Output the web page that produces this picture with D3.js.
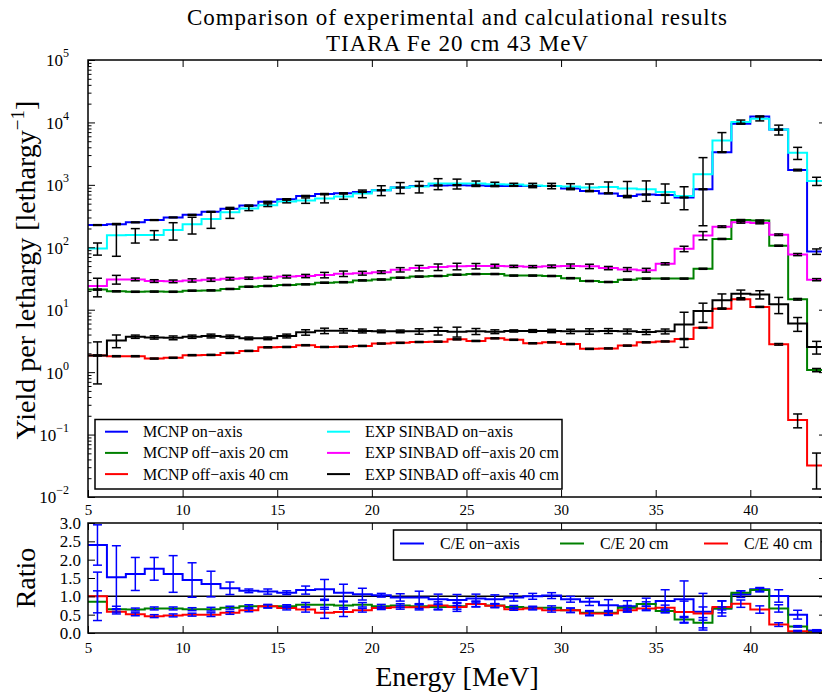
<!DOCTYPE html>
<html>
<head>
<meta charset="utf-8">
<script src="https://cdn.jsdelivr.net/npm/d3@7"></script>
<style>
  body { margin: 0; background: #fff; overflow: hidden; }
  svg text { font-family: "Liberation Serif", "DejaVu Serif", serif !important; fill: #000; }
</style>
</head>
<body>
<svg id="chart" width="822" height="695" font-family="Liberation Serif, serif"></svg>
<script>
// lower bin edges (MeV), bins are 1 MeV wide, last edge 44
const binLow = [5, 6, 7, 8, 9, 10, 11, 12, 13, 14, 15, 16, 17, 18, 19, 20, 21, 22, 23, 24,
  25, 26, 27, 28, 29, 30, 31, 32, 33, 34, 35, 36, 37, 38, 39, 40, 41, 42, 43];
const lastEdge = 44;

// yield per lethargy
const mcnpOn = [227, 234, 251, 273, 301, 331, 370, 413, 468, 535, 590, 666, 716, 735,
  771, 820, 906, 962, 980, 990, 980, 962, 962, 962, 962, 871, 800,
  730, 666, 700, 690, 628, 851, 3340, 9550, 12500, 7670, 1726, 85.5];
const mcnp20 = [21, 19.7, 19.4, 19.5, 19.4, 20.2, 20.4, 21.5, 23.4, 24, 24.9, 25.5, 27.1, 27.6,
  29.5, 30.5, 32.6, 33.9, 34.7, 36.4, 37.3, 37.3, 35.2, 35.2, 34.7, 32, 28.8,
  27.8, 30.3, 31.5, 31.5, 31.5, 45.3, 136, 273, 268, 106, 14.7, 1.08];
const mcnp40 = [1.85, 1.8, 1.8, 1.65, 1.7, 1.87, 1.89, 2.03, 2.19, 2.5, 2.53, 2.7, 2.53, 2.55,
  2.63, 2.87, 2.95, 3.04, 3.08, 3.35, 3.16, 3.48, 3.3, 2.9, 3.0, 2.82, 2.36,
  2.4, 2.66, 3.0, 3.1, 3.39, 5.14, 10.4, 14.7, 11.1, 2.79, 0.171, 0.032];
const expOn = [96, 156, 158, 158, 189, 233, 283, 363, 420, 473, 542, 562, 605, 652,
  724, 820, 906, 940, 1047, 1047, 1047, 1020, 1010, 980, 962, 940, 906,
  927, 878, 851, 771, 666, 1476, 5130, 10200, 11500, 7670, 3270, 1150];
const exp20 = [24, 30.6, 30.6, 28.8, 28.5, 29.5, 30.3, 31.4, 32, 32.5, 33.9, 34.7, 36, 37.8,
  38.5, 40, 43.7, 46.5, 48.2, 49.5, 50, 50, 49.5, 49, 49.5, 50, 49.5,
  46.5, 44.2, 43, 54.4, 94.5, 155, 214, 251, 245, 159, 76.5, 30.3];
const exp40 = [1.85, 3.2, 3.7, 3.6, 3.55, 3.7, 3.8, 3.7, 3.48, 3.48, 3.8, 4.34, 4.6, 4.6,
  4.57, 4.5, 4.5, 4.5, 4.57, 4.45, 4.5, 4.45, 4.57, 4.57, 4.57, 4.5, 4.5,
  4.57, 4.5, 4.4, 4.5, 5.8, 9.5, 14.2, 18.1, 17.5, 12.2, 6.0, 2.53];

// relative uncertainties
const mcnpOnErr = [0.015, 0.015, 0.015, 0.015, 0.015, 0.015, 0.015, 0.015, 0.015, 0.015, 0.015, 0.015, 0.015, 0.015,
  0.015, 0.015, 0.015, 0.015, 0.015, 0.015, 0.015, 0.015, 0.015, 0.015, 0.015, 0.015, 0.015,
  0.015, 0.015, 0.015, 0.015, 0.015, 0.015, 0.015, 0.015, 0.015, 0.02, 0.03, 0.1];
const mcnp20Err = [0.02, 0.02, 0.02, 0.02, 0.02, 0.02, 0.02, 0.02, 0.02, 0.02, 0.02, 0.02, 0.02, 0.02,
  0.02, 0.02, 0.02, 0.02, 0.02, 0.02, 0.02, 0.02, 0.02, 0.02, 0.02, 0.02, 0.02,
  0.02, 0.02, 0.02, 0.02, 0.02, 0.02, 0.02, 0.02, 0.02, 0.02, 0.03, 0.06];
const mcnp40Err = [0.02, 0.02, 0.02, 0.02, 0.02, 0.02, 0.02, 0.02, 0.02, 0.02, 0.02, 0.02, 0.02, 0.02,
  0.02, 0.02, 0.02, 0.02, 0.02, 0.02, 0.02, 0.02, 0.02, 0.02, 0.02, 0.02, 0.02,
  0.02, 0.02, 0.02, 0.02, 0.02, 0.02, 0.02, 0.02, 0.02, 0.03, 0.25, 0.58];
const expOnErr = [0.22, 0.54, 0.26, 0.17, 0.31, 0.30, 0.29, 0.20, 0.08, 0.05, 0.05, 0.10, 0.15, 0.10,
  0.14, 0.18, 0.20, 0.21, 0.20, 0.18, 0.10, 0.08, 0.05, 0.08, 0.10, 0.11, 0.14,
  0.20, 0.29, 0.36, 0.34, 0.40, 0.85, 0.34, 0.07, 0.08, 0.18, 0.22, 0.15];
const exp20Err = [0.33, 0.16, 0.05, 0.05, 0.05, 0.06, 0.06, 0.05, 0.04, 0.05, 0.05, 0.06, 0.1, 0.1,
  0.07, 0.05, 0.08, 0.1, 0.12, 0.12, 0.1, 0.07, 0.04, 0.04, 0.05, 0.08, 0.08,
  0.06, 0.07, 0.07, 0.04, 0.1, 0.15, 0.03, 0.03, 0.03, 0.03, 0.04, 0.04];
const exp40Err = [0.65, 0.23, 0.06, 0.06, 0.07, 0.06, 0.07, 0.06, 0.05, 0.05, 0.07, 0.1, 0.1, 0.08,
  0.07, 0.05, 0.05, 0.1, 0.14, 0.18, 0.11, 0.07, 0.04, 0.05, 0.06, 0.08, 0.1,
  0.09, 0.09, 0.09, 0.09, 0.57, 0.34, 0.26, 0.14, 0.15, 0.29, 0.25, 0.23];

// C/E ratios and absolute uncertainties
const ratioOn = [2.4, 1.52, 1.61, 1.75, 1.61, 1.445, 1.335, 1.22, 1.15, 1.13, 1.1, 1.17, 1.19, 1.1,
  1.06, 1.03, 0.97, 0.97, 0.92, 0.9, 0.94, 0.92, 0.97, 1.0, 1.02, 0.92, 0.85,
  0.76, 0.73, 0.79, 0.87, 0.92, 0.58, 0.67, 1.06, 1.19, 1.01, 0.5, 0.07];
const ratio20 = [0.85, 0.65, 0.64, 0.67, 0.67, 0.65, 0.65, 0.69, 0.73, 0.73, 0.73, 0.77, 0.77, 0.75,
  0.77, 0.73, 0.75, 0.73, 0.71, 0.73, 0.79, 0.75, 0.71, 0.69, 0.69, 0.62, 0.55,
  0.55, 0.69, 0.79, 0.6, 0.37, 0.28, 0.67, 1.1, 1.17, 0.67, 0.18, 0.03];
const ratio40 = [1.0, 0.58, 0.51, 0.46, 0.48, 0.5, 0.5, 0.55, 0.62, 0.73, 0.68, 0.64, 0.55, 0.57,
  0.62, 0.68, 0.7, 0.7, 0.75, 0.71, 0.79, 0.74, 0.65, 0.67, 0.62, 0.62, 0.53,
  0.53, 0.62, 0.67, 0.69, 0.57, 0.53, 0.71, 0.8, 0.64, 0.23, 0.05, 0.01];
const ratioOnErr = [0.55, 0.86, 0.45, 0.31, 0.5, 0.47, 0.35, 0.17, 0.05, 0.07, 0.05, 0.11, 0.27, 0.23,
  0.16, 0.05, 0.1, 0.17, 0.14, 0.15, 0.12, 0.12, 0.1, 0.08, 0.08, 0.08, 0.1,
  0.15, 0.15, 0.16, 0.31, 0.5, 0.5, 0.21, 0.09, 0.05, 0.17, 0.12, 0.02];
const ratio20Err = [0.3, 0.08, 0.04, 0.04, 0.04, 0.04, 0.05, 0.04, 0.04, 0.04, 0.04, 0.06, 0.12, 0.1,
  0.06, 0.05, 0.05, 0.06, 0.08, 0.08, 0.07, 0.05, 0.04, 0.04, 0.05, 0.06, 0.06,
  0.05, 0.06, 0.06, 0.05, 0.08, 0.14, 0.04, 0.05, 0.05, 0.1, 0.02, 0.01];
const ratio40Err = [0.66, 0.06, 0.04, 0.04, 0.04, 0.04, 0.05, 0.04, 0.04, 0.05, 0.05, 0.07, 0.15, 0.12,
  0.05, 0.04, 0.05, 0.07, 0.1, 0.12, 0.08, 0.05, 0.03, 0.04, 0.05, 0.06, 0.06,
  0.05, 0.05, 0.06, 0.07, 0.3, 0.18, 0.16, 0.1, 0.1, 0.05, 0.02, 0.01];

const xTicks = [5, 10, 15, 20, 25, 30, 35, 40];
const logMajor = [1e-2, 1e-1, 1e0, 1e1, 1e2, 1e3, 1e4, 1e5];
const logExps = ['\u22122', '\u22121', '0', '1', '2', '3', '4', '5'];
const ratioTicks = [0, 0.5, 1.0, 1.5, 2.0, 2.5, 3.0];

const svg = d3.select('#chart');
const left = 88, right = 826;
const top1 = 60, bottom1 = 497;
const top2 = 523, bottom2 = 633;

const x = d3.scaleLinear().domain([5, 44]).range([left, right]);
const y = d3.scaleLog().domain([1e-2, 1e5]).range([bottom1, top1]);
const yr = d3.scaleLinear().domain([0, 3]).range([bottom2, top2]);

const minor = [];
logMajor.slice(0, -1).forEach((m) => {
  for (let k = 2; k <= 9; k++) minor.push(m * k);
});

const defs = svg.append('defs');
defs.append('clipPath').attr('id', 'clipTop')
  .append('rect').attr('x', left).attr('y', top1).attr('width', right - left).attr('height', bottom1 - top1);
defs.append('clipPath').attr('id', 'clipBot')
  .append('rect').attr('x', left).attr('y', top2).attr('width', right - left).attr('height', bottom2 - top2);

function stepPath(vals, yScale) {
  const pts = binLow.map((e, i) => [e, vals[i]]);
  pts.push([lastEdge, vals[vals.length - 1]]);
  return d3.line().x((d) => x(d[0])).y((d) => yScale(d[1])).curve(d3.curveStepAfter)(pts);
}

function drawErrors(g, vals, err, yScale, color, relative, lo) {
  binLow.forEach((e, i) => {
    const cx = x(e + 0.5);
    const de = relative ? vals[i] * err[i] : err[i];
    const y1 = yScale(Math.max(vals[i] - de, lo));
    const y2 = yScale(vals[i] + de);
    g.append('line').attr('x1', cx).attr('x2', cx).attr('y1', y1).attr('y2', y2)
      .attr('stroke', color).attr('stroke-width', 1.5);
    [y1, y2].forEach((yy) => {
      if (vals[i] - de <= lo && yy === y1) return;
      g.append('line').attr('x1', cx - 4.5).attr('x2', cx + 4.5).attr('y1', yy).attr('y2', yy)
        .attr('stroke', color).attr('stroke-width', 1.5);
    });
  });
}

function styleAxis(g) {
  g.attr('font-family', 'Liberation Serif, serif');
  g.select('.domain').remove();
  g.selectAll('.tick line').attr('stroke', '#000').attr('stroke-width', 1);
}

// ---------- top panel ----------
const topSeries = [
  { vals: mcnpOn, err: mcnpOnErr, color: '#0000ff', label: 'MCNP on\u2212axis' },
  { vals: mcnp20, err: mcnp20Err, color: '#008000', label: 'MCNP off\u2212axis 20 cm' },
  { vals: mcnp40, err: mcnp40Err, color: '#ff0000', label: 'MCNP off\u2212axis 40 cm' },
  { vals: expOn, err: expOnErr, color: '#00ffff', label: 'EXP SINBAD on\u2212axis' },
  { vals: exp20, err: exp20Err, color: '#ff00ff', label: 'EXP SINBAD off\u2212axis 20 cm' },
  { vals: exp40, err: exp40Err, color: '#000000', label: 'EXP SINBAD off\u2212axis 40 cm' }
];

const gTop = svg.append('g').attr('clip-path', 'url(#clipTop)');
topSeries.forEach((s) => {
  gTop.append('path').attr('d', stepPath(s.vals, y))
    .attr('fill', 'none').attr('stroke', s.color).attr('stroke-width', 2);
});
topSeries.forEach((s) => drawErrors(gTop, s.vals, s.err, y, '#000', true, 1e-3));

svg.append('g').attr('transform', `translate(0,${bottom1})`)
  .call(d3.axisBottom(x).tickValues(xTicks).tickSize(-7).tickPadding(7).tickFormat(d3.format('d')))
  .call(styleAxis)
  .selectAll('text').attr('font-size', 15);
svg.append('g').attr('transform', `translate(0,${top1})`)
  .call(d3.axisTop(x).tickValues(xTicks).tickSize(-7).tickFormat(''))
  .call(styleAxis);

const yAxisL = svg.append('g').attr('transform', `translate(${left},0)`)
  .call(d3.axisLeft(y).tickValues(logMajor).tickSize(-7).tickPadding(19).tickFormat(() => ''))
  .call(styleAxis);
yAxisL.selectAll('.tick text').each(function (d, i) {
  const t = d3.select(this).attr('font-size', 17).attr('dy', '0.35em').attr('x', -19);
  t.append('tspan').text('10');
  t.append('tspan').attr('font-size', 12).attr('dy', '-0.75em').text(logExps[i]);
});
svg.append('g').attr('transform', `translate(${left},0)`)
  .call(d3.axisLeft(y).tickValues(minor).tickSize(-3.5).tickFormat(''))
  .call(styleAxis);
svg.append('g').attr('transform', `translate(${right},0)`)
  .call(d3.axisRight(y).tickValues(logMajor).tickSize(-7).tickFormat(''))
  .call(styleAxis);
svg.append('g').attr('transform', `translate(${right},0)`)
  .call(d3.axisRight(y).tickValues(minor).tickSize(-3.5).tickFormat(''))
  .call(styleAxis);

svg.append('rect').attr('x', left).attr('y', top1).attr('width', right - left).attr('height', bottom1 - top1)
  .attr('fill', 'none').attr('stroke', '#000').attr('stroke-width', 1.5);

// legend top
const legTop = svg.append('g');
legTop.append('rect').attr('x', 95).attr('y', 419.5).attr('width', 467).attr('height', 69.5)
  .attr('fill', '#fff').attr('stroke', '#000').attr('stroke-width', 1.5);
topSeries.forEach((s, i) => {
  const col = Math.floor(i / 3), row = i % 3;
  const lx = col === 0 ? 105 : 327;
  const ly = 431.7 + row * 21.2;
  legTop.append('line').attr('x1', lx).attr('x2', lx + 23).attr('y1', ly).attr('y2', ly)
    .attr('stroke', s.color).attr('stroke-width', 2);
  legTop.append('text').attr('x', lx + 38).attr('y', ly + 5.5).attr('font-size', 16).text(s.label);
});

// ---------- ratio panel ----------
const ratioSeries = [
  { vals: ratioOn, err: ratioOnErr, color: '#0000ff', label: 'C/E on\u2212axis' },
  { vals: ratio20, err: ratio20Err, color: '#008000', label: 'C/E 20 cm' },
  { vals: ratio40, err: ratio40Err, color: '#ff0000', label: 'C/E 40 cm' }
];

const gBot = svg.append('g').attr('clip-path', 'url(#clipBot)');
gBot.append('line').attr('x1', left).attr('x2', right).attr('y1', yr(1)).attr('y2', yr(1))
  .attr('stroke', '#000').attr('stroke-width', 1.5);
ratioSeries.forEach((s) => {
  gBot.append('path').attr('d', stepPath(s.vals, yr))
    .attr('fill', 'none').attr('stroke', s.color).attr('stroke-width', 2);
});
ratioSeries.forEach((s) => drawErrors(gBot, s.vals, s.err, yr, '#0000ff', false, -1));

svg.append('g').attr('transform', `translate(0,${bottom2})`)
  .call(d3.axisBottom(x).tickValues(xTicks).tickSize(-7).tickPadding(9).tickFormat(d3.format('d')))
  .call(styleAxis)
  .selectAll('text').attr('font-size', 15);
svg.append('g').attr('transform', `translate(0,${top2})`)
  .call(d3.axisTop(x).tickValues(xTicks).tickSize(-7).tickFormat(''))
  .call(styleAxis);
svg.append('g').attr('transform', `translate(${left},0)`)
  .call(d3.axisLeft(yr).tickValues(ratioTicks).tickSize(-7).tickPadding(7).tickFormat(d3.format('.1f')))
  .call(styleAxis)
  .selectAll('text').attr('font-size', 17);
svg.append('g').attr('transform', `translate(${right},0)`)
  .call(d3.axisRight(yr).tickValues(ratioTicks).tickSize(-7).tickFormat(''))
  .call(styleAxis);
svg.append('rect').attr('x', left).attr('y', top2).attr('width', right - left).attr('height', bottom2 - top2)
  .attr('fill', 'none').attr('stroke', '#000').attr('stroke-width', 1.5);

// legend ratio
const legBot = svg.append('g');
legBot.append('rect').attr('x', 393.5).attr('y', 530).attr('width', 427.5).attr('height', 30)
  .attr('fill', '#fff').attr('stroke', '#000').attr('stroke-width', 1.5);
[400, 560, 704].forEach((lx, i) => {
  const ly = 543.5;
  legBot.append('line').attr('x1', lx).attr('x2', lx + 24).attr('y1', ly).attr('y2', ly)
    .attr('stroke', ratioSeries[i].color).attr('stroke-width', 2);
  legBot.append('text').attr('x', lx + 40).attr('y', ly + 5.5).attr('font-size', 16).text(ratioSeries[i].label);
});

// ---------- titles ----------
svg.append('text').attr('x', 457).attr('y', 25).attr('text-anchor', 'middle').attr('font-size', 23)
  .attr('textLength', 540).attr('lengthAdjust', 'spacing')
  .text('Comparison of experimental and calculational results');
svg.append('text').attr('x', 457).attr('y', 51).attr('text-anchor', 'middle').attr('font-size', 23)
  .attr('textLength', 262).attr('lengthAdjust', 'spacing')
  .text('TIARA Fe 20 cm 43 MeV');

const yl = svg.append('text').attr('transform', 'translate(35,270) rotate(-90)')
  .attr('text-anchor', 'middle').attr('font-size', 28);
yl.append('tspan').text('Yield per lethargy [lethargy');
yl.append('tspan').attr('font-size', 19).attr('dy', '-0.6em').text('\u22121');
yl.append('tspan').attr('dy', '0.4em').text(']');

svg.append('text').attr('transform', 'translate(35,578) rotate(-90)')
  .attr('text-anchor', 'middle').attr('font-size', 28).text('Ratio');

svg.append('text').attr('x', 457).attr('y', 686).attr('text-anchor', 'middle').attr('font-size', 28)
  .text('Energy [MeV]');
</script>
</body>
</html>
